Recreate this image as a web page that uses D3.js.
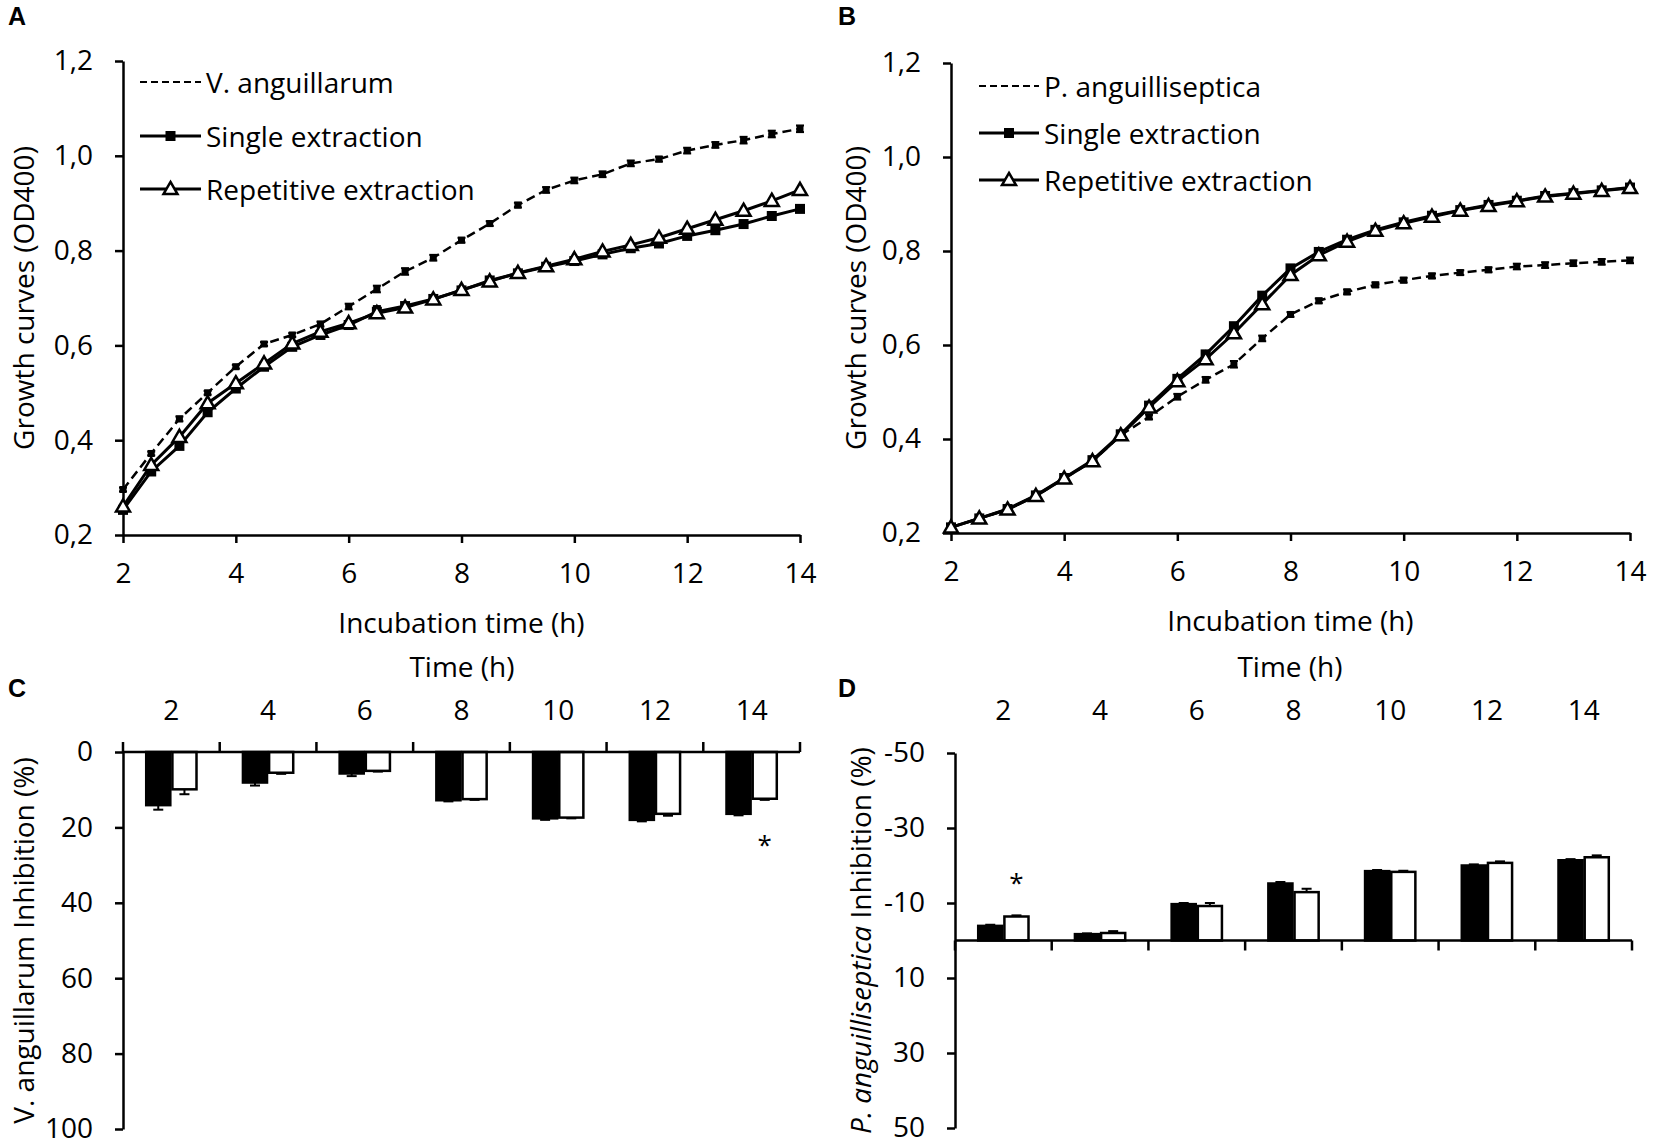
<!DOCTYPE html>
<html>
<head>
<meta charset="utf-8">
<script src="https://cdn.jsdelivr.net/npm/d3@7"></script>
<style>
body { margin: 0; background: #fff; }
text { font-family: "Open Sans", sans-serif; fill: #000; }
</style>
</head>
<body>
<div id="figure"></div>
<script>
// growth curves, sampled every half hour
var time = [2, 2.5, 3, 3.5, 4, 4.5, 5, 5.5, 6, 6.5, 7, 7.5, 8, 8.5, 9, 9.5, 10, 10.5, 11, 11.5, 12, 12.5, 13, 13.5, 14];
var timeTicks = [2, 4, 6, 8, 10, 12, 14];
var odTicks = [0.2, 0.4, 0.6, 0.8, 1.0, 1.2];

// panel A - V. anguillarum
var vangControl = [0.296, 0.372, 0.445, 0.500, 0.555, 0.603, 0.622, 0.645, 0.682, 0.719, 0.756, 0.785, 0.822, 0.857, 0.896, 0.928, 0.948, 0.961, 0.984, 0.993, 1.011, 1.023, 1.033, 1.046, 1.057];
var vangControlErr = [0.004, 0.004, 0.005, 0.004, 0.004, 0.004, 0.004, 0.005, 0.006, 0.007, 0.007, 0.006, 0.005, 0.005, 0.005, 0.006, 0.006, 0.006, 0.006, 0.005, 0.006, 0.006, 0.007, 0.007, 0.007];
var vangSingle = [0.253, 0.334, 0.388, 0.459, 0.509, 0.555, 0.597, 0.622, 0.643, 0.671, 0.683, 0.698, 0.716, 0.737, 0.752, 0.766, 0.778, 0.792, 0.805, 0.815, 0.831, 0.843, 0.856, 0.873, 0.888];
var vangSingleErr = [0.004, 0.004, 0.004, 0.004, 0.004, 0.004, 0.004, 0.004, 0.005, 0.012, 0.006, 0.005, 0.004, 0.004, 0.004, 0.004, 0.004, 0.004, 0.004, 0.004, 0.004, 0.004, 0.004, 0.004, 0.004];
var vangRep = [0.260, 0.348, 0.407, 0.478, 0.520, 0.562, 0.604, 0.629, 0.647, 0.668, 0.680, 0.697, 0.717, 0.735, 0.753, 0.767, 0.782, 0.798, 0.812, 0.827, 0.846, 0.865, 0.884, 0.905, 0.928];

// panel B - P. anguilliseptica
var pangControl = [0.212, 0.231, 0.250, 0.279, 0.316, 0.353, 0.408, 0.447, 0.490, 0.526, 0.559, 0.614, 0.665, 0.694, 0.713, 0.728, 0.738, 0.747, 0.754, 0.760, 0.767, 0.770, 0.774, 0.777, 0.780];
var pangControlErr = [0.003, 0.003, 0.003, 0.003, 0.003, 0.003, 0.004, 0.005, 0.006, 0.006, 0.007, 0.006, 0.005, 0.005, 0.005, 0.005, 0.005, 0.005, 0.005, 0.005, 0.006, 0.006, 0.006, 0.006, 0.006];
var pangSingle = [0.212, 0.231, 0.251, 0.280, 0.317, 0.355, 0.410, 0.471, 0.528, 0.580, 0.640, 0.705, 0.763, 0.798, 0.824, 0.845, 0.861, 0.875, 0.887, 0.898, 0.907, 0.917, 0.923, 0.929, 0.935];
var pangRep = [0.212, 0.231, 0.250, 0.279, 0.316, 0.353, 0.408, 0.467, 0.523, 0.570, 0.625, 0.687, 0.749, 0.791, 0.820, 0.843, 0.859, 0.873, 0.886, 0.896, 0.906, 0.916, 0.922, 0.928, 0.934];

// inhibition (%) per sampling time
var hours = ["2", "4", "6", "8", "10", "12", "14"];
var vangInhibSingle = [14.1, 8.1, 5.7, 12.8, 17.6, 18.0, 16.4];
var vangInhibSingleErr = [1.2, 0.8, 0.7, 0.3, 0.4, 0.4, 0.4];
var vangInhibRep = [9.9, 5.5, 5.0, 12.5, 17.4, 16.4, 12.4];
var vangInhibRepErr = [1.3, 0.3, 0.2, 0.2, 0.2, 0.5, 0.3];
var vangInhibTicks = [0, 20, 40, 60, 80, 100];

var pangInhibSingle = [-3.9, -1.7, -9.7, -15.2, -18.5, -20.0, -21.4];
var pangInhibSingleErr = [0.3, 0.2, 0.3, 0.4, 0.3, 0.3, 0.3];
var pangInhibRep = [-6.4, -2.0, -9.2, -12.9, -18.3, -20.7, -22.2];
var pangInhibRepErr = [0.3, 0.5, 0.8, 0.9, 0.3, 0.4, 0.5];
var pangInhibTicks = [-50, -30, -10, 10, 30, 50];

const FS = 28;

const svg = d3.select("#figure")
    .append("svg")
    .attr("width", 1654)
    .attr("height", 1147);

function comma(v)
{
    return d3.format(".1f")(v).replace(".", ",");
}

function style_axis(g)
{
    g.attr("font-size", FS).attr("font-family", "Open Sans, sans-serif");
    g.select(".domain").attr("stroke-width", 2.5);
    g.selectAll(".tick line").attr("stroke-width", 2.5);
}

function panel_letter(x, y, t)
{
    svg.append("text")
        .attr("x", x).attr("y", y)
        .attr("text-anchor", "middle")
        .attr("dominant-baseline", "central")
        .style("font-family", "Liberation Sans, Arial, sans-serif")
        .style("font-weight", "bold")
        .attr("font-size", 25)
        .text(t);
}

function add_marker(g, kind, cx, cy)
{
    if (kind === "square") {
        g.append("rect")
            .attr("x", cx - 5).attr("y", cy - 5)
            .attr("width", 10).attr("height", 10)
            .attr("fill", "black");
    } else if (kind === "small") {
        g.append("rect")
            .attr("x", cx - 3.5).attr("y", cy - 3.5)
            .attr("width", 7).attr("height", 7)
            .attr("fill", "black");
    } else if (kind === "triangle") {
        g.append("path")
            .attr("d", d3.symbol(d3.symbolTriangle, 85)())
            .attr("transform", `translate(${cx},${cy + 1})`)
            .attr("fill", "white")
            .attr("stroke", "black")
            .attr("stroke-width", 2.5);
    }
}

function growth_chart(box, series, legend, xTitle, yTitleX)
{
    var xScale = d3.scaleLinear().domain([2, 14]).range([box.left, box.right]);
    var yScale = d3.scaleLinear().domain([0.2, 1.2]).range([box.bottom, box.top]);

    svg.append("g")
        .attr("transform", `translate(${box.left},0)`)
        .call(d3.axisLeft(yScale).tickValues(odTicks).tickFormat(comma).tickSize(8).tickSizeOuter(0).tickPadding(22))
        .call(style_axis);

    svg.append("g")
        .attr("transform", `translate(0,${box.bottom})`)
        .call(d3.axisBottom(xScale).tickValues(timeTicks).tickSize(8).tickSizeOuter(0).tickPadding(20))
        .call(style_axis);

    svg.append("text")
        .attr("x", (box.left + box.right) / 2).attr("y", box.bottom + 87)
        .attr("text-anchor", "middle").attr("dominant-baseline", "central")
        .attr("font-size", FS)
        .text(xTitle);

    svg.append("text")
        .attr("transform", `translate(${yTitleX},${(box.top + box.bottom) / 2}) rotate(-90)`)
        .attr("text-anchor", "middle").attr("dominant-baseline", "central")
        .attr("font-size", FS)
        .text("Growth curves (OD400)");

    series.forEach(function (s) {
        var g = svg.append("g");
        var pts = time.map(function (t, i) { return [t, s.values[i]]; });
        var line = d3.line()
            .x(function (d) { return xScale(d[0]); })
            .y(function (d) { return yScale(d[1]); });

        g.append("path")
            .datum(pts)
            .attr("d", line)
            .attr("fill", "none")
            .attr("stroke", "black")
            .attr("stroke-width", s.dashed ? 2.5 : 3)
            .attr("stroke-dasharray", s.dashed ? "9,5" : null);

        if (s.err) {
            pts.forEach(function (d, i) {
                var cx = xScale(d[0]);
                var y1 = yScale(d[1] - s.err[i]), y2 = yScale(d[1] + s.err[i]);
                g.append("line").attr("x1", cx).attr("x2", cx).attr("y1", y1).attr("y2", y2)
                    .attr("stroke", "black").attr("stroke-width", 2);
                [y1, y2].forEach(function (yy) {
                    g.append("line").attr("x1", cx - 4).attr("x2", cx + 4).attr("y1", yy).attr("y2", yy)
                        .attr("stroke", "black").attr("stroke-width", 2);
                });
            });
        }

        pts.forEach(function (d) {
            add_marker(g, s.marker, xScale(d[0]), yScale(d[1]));
        });
    });

    // legend
    legend.rows.forEach(function (ly, i) {
        var s = series[i];
        svg.append("line")
            .attr("x1", legend.x1).attr("x2", legend.x2)
            .attr("y1", ly).attr("y2", ly)
            .attr("stroke", "black")
            .attr("stroke-width", s.dashed ? 2 : 3)
            .attr("stroke-dasharray", s.dashed ? "7,4" : null);
        if (!s.dashed) add_marker(svg, s.marker, (legend.x1 + legend.x2) / 2, ly);
        svg.append("text")
            .attr("x", legend.x2 + 5).attr("y", ly)
            .attr("dominant-baseline", "central")
            .attr("font-size", FS)
            .text(s.name);
    });
}

function inhibition_chart(o)
{
    var xScale = d3.scaleBand().domain(hours).range([o.left, o.right]).padding(0);
    var bw = xScale.bandwidth();
    var sub = d3.scaleBand().domain(["single", "rep"]).range([bw * 0.24, bw * 0.76]).paddingInner(0.08);
    var yScale = d3.scaleLinear().domain(o.domain).range([o.top, o.bottom]);
    var zero = yScale(0);

    svg.append("g")
        .attr("transform", `translate(${o.left},0)`)
        .call(d3.axisLeft(yScale).tickValues(o.ticks).tickFormat(function (d) { return String(d); })
            .tickSize(8).tickSizeOuter(0).tickPadding(22))
        .call(style_axis);

    var g = svg.append("g");

    var groups = [
        { key: "single", values: o.single, err: o.singleErr, fill: "black" },
        { key: "rep", values: o.rep, err: o.repErr, fill: "white" }
    ];

    groups.forEach(function (grp) {
        hours.forEach(function (h, i) {
            var v = grp.values[i];
            var bx = xScale(h) + sub(grp.key);
            var w = sub.bandwidth();
            var yv = yScale(v);
            g.append("rect")
                .attr("x", bx).attr("y", Math.min(zero, yv))
                .attr("width", w).attr("height", Math.abs(yv - zero))
                .attr("fill", grp.fill)
                .attr("stroke", "black")
                .attr("stroke-width", 2.5);
            var ye = yScale(v + Math.sign(v) * grp.err[i]);
            var cx = bx + w / 2;
            g.append("line").attr("x1", cx).attr("x2", cx).attr("y1", yv).attr("y2", ye)
                .attr("stroke", "black").attr("stroke-width", 2);
            g.append("line").attr("x1", cx - 5).attr("x2", cx + 5).attr("y1", ye).attr("y2", ye)
                .attr("stroke", "black").attr("stroke-width", 2);
        });
    });

    // category axis along zero
    g.append("line")
        .attr("x1", o.left).attr("x2", o.right)
        .attr("y1", zero).attr("y2", zero)
        .attr("stroke", "black").attr("stroke-width", 2.5);

    d3.range(hours.length + 1).forEach(function (i) {
        var bx = o.left + i * bw;
        g.append("line")
            .attr("x1", bx).attr("x2", bx)
            .attr("y1", zero).attr("y2", zero + o.tickDir * 10)
            .attr("stroke", "black").attr("stroke-width", 2.5);
    });

    svg.append("g")
        .selectAll("text")
        .data(hours)
        .join("text")
        .attr("x", function (d) { return xScale(d) + bw / 2; })
        .attr("y", 709)
        .attr("text-anchor", "middle")
        .attr("dominant-baseline", "central")
        .attr("font-size", FS)
        .text(function (d) { return d; });

    // significance mark
    svg.append("text")
        .attr("x", xScale(hours[o.star.index]) + sub("rep") + sub.bandwidth() / 2)
        .attr("y", yScale(o.star.value))
        .attr("text-anchor", "middle")
        .attr("dominant-baseline", "central")
        .attr("font-size", 26)
        .text("*");

    var yt = svg.append("text")
        .attr("transform", `translate(${o.titleX},${(o.top + o.bottom) / 2}) rotate(-90)`)
        .attr("text-anchor", "middle").attr("dominant-baseline", "central")
        .attr("font-size", FS);
    if (o.italic) {
        yt.append("tspan").style("font-style", "italic").text(o.species);
        yt.append("tspan").text(" Inhibition (%)");
    } else {
        yt.text(o.species + " Inhibition (%)");
    }
}

growth_chart(
    { left: 123, right: 800, top: 61, bottom: 535 },
    [
        { name: "V. anguillarum", values: vangControl, err: vangControlErr, dashed: true, marker: "small" },
        { name: "Single extraction", values: vangSingle, err: vangSingleErr, dashed: false, marker: "square" },
        { name: "Repetitive extraction", values: vangRep, err: null, dashed: false, marker: "triangle" }
    ],
    { x1: 140, x2: 201, rows: [82, 136, 189] },
    "Incubation time (h)", 23
);

growth_chart(
    { left: 951, right: 1630, top: 63, bottom: 533 },
    [
        { name: "P. anguilliseptica", values: pangControl, err: pangControlErr, dashed: true, marker: "small" },
        { name: "Single extraction", values: pangSingle, err: null, dashed: false, marker: "square" },
        { name: "Repetitive extraction", values: pangRep, err: null, dashed: false, marker: "triangle" }
    ],
    { x1: 979, x2: 1039, rows: [86, 133, 180] },
    "Incubation time (h)", 855
);

svg.append("text")
    .attr("x", 462).attr("y", 666)
    .attr("text-anchor", "middle").attr("dominant-baseline", "central")
    .attr("font-size", FS)
    .text("Time (h)");

svg.append("text")
    .attr("x", 1290).attr("y", 666)
    .attr("text-anchor", "middle").attr("dominant-baseline", "central")
    .attr("font-size", FS)
    .text("Time (h)");

inhibition_chart({
    left: 123, right: 800, top: 752, bottom: 1129,
    domain: [0, 100], ticks: vangInhibTicks, tickDir: -1,
    single: vangInhibSingle, singleErr: vangInhibSingleErr,
    rep: vangInhibRep, repErr: vangInhibRepErr,
    star: { index: 6, value: 24.4 },
    titleX: 23, species: "V. anguillarum", italic: false
});

inhibition_chart({
    left: 955, right: 1632, top: 753, bottom: 1128,
    domain: [-50, 50], ticks: pangInhibTicks, tickDir: 1,
    single: pangInhibSingle, singleErr: pangInhibSingleErr,
    rep: pangInhibRep, repErr: pangInhibRepErr,
    star: { index: 0, value: -15.6 },
    titleX: 860, species: "P. anguilliseptica", italic: true
});

panel_letter(17, 16, "A");
panel_letter(847, 16, "B");
panel_letter(17, 688, "C");
panel_letter(847, 688, "D");
</script>
</body>
</html>
